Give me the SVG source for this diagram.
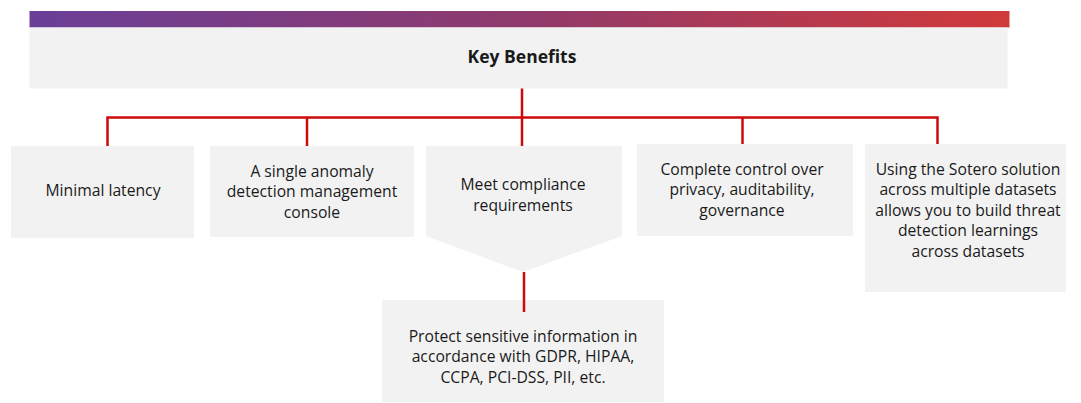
<svg xmlns="http://www.w3.org/2000/svg" width="1081" height="403" viewBox="0 0 1081 403">
<defs>
<linearGradient id="bar" x1="0" y1="0" x2="1" y2="0">
<stop offset="0" stop-color="#6a3f98"/>
<stop offset="0.5" stop-color="#8f3a6c"/>
<stop offset="1" stop-color="#d13a3a"/>
</linearGradient>
</defs>
<style>
.box{fill:#f2f2f2}
.t{font-family:"Open Sans","Noto Sans",sans-serif;font-size:15.7px;fill:#1a1a1a;text-anchor:middle}
.b{font-weight:bold;font-size:17.5px}
.ln{stroke:#cc0a0a;stroke-width:2.5;fill:none}
</style>
<rect x="29.5" y="11" width="980" height="16.5" fill="url(#bar)"/>
<g id="header">
<rect class="box" x="29.5" y="27.5" width="978" height="61"/>
<text class="t b" x="522" y="63">Key Benefits</text>
</g>
<g id="n1">
<rect class="box" x="11" y="146" width="183" height="92"/>
<text class="t" x="103" y="196">Minimal latency</text>
</g>
<g id="n2">
<rect class="box" x="210" y="146" width="204" height="91"/>
<text class="t" x="312" y="176.5">A single anomaly<tspan x="312" dy="20.5">detection management</tspan><tspan x="312" dy="20.5">console</tspan></text>
</g>
<g id="n3">
<polygon class="box" points="426,146 622,146 622,236 523,272 426,236"/>
<text class="t" x="523" y="190">Meet compliance<tspan x="523" dy="21">requirements</tspan></text>
</g>
<g id="n4">
<rect class="box" x="637" y="144" width="216" height="92"/>
<text class="t" x="742" y="174.5">Complete control over<tspan x="742" dy="20.7">privacy, auditability,</tspan><tspan x="742" dy="20.7">governance</tspan></text>
</g>
<g id="n5">
<rect class="box" x="865" y="144" width="201" height="148"/>
<text class="t" x="968" y="175">Using the Sotero solution<tspan x="968" dy="20.4">across multiple datasets</tspan><tspan x="968" dy="20.4">allows you to build threat</tspan><tspan x="968" dy="20.4">detection learnings</tspan><tspan x="968" dy="20.4">across datasets</tspan></text>
</g>
<g id="n6">
<rect class="box" x="382" y="300" width="282" height="102"/>
<text class="t" x="523" y="341.5">Protect sensitive information in<tspan x="523" dy="20.8">accordance with GDPR, HIPAA,</tspan><tspan x="523" dy="20.8">CCPA, PCI-DSS, PII, etc.</tspan></text>
</g>
<g id="connectors">
<path class="ln" d="M522,88.5 V146 M107.5,146 V117.5 H937.5 V144 M307,117.5 V146 M742.5,117.5 V144 M524,272 V312"/>
</g>
</svg>
